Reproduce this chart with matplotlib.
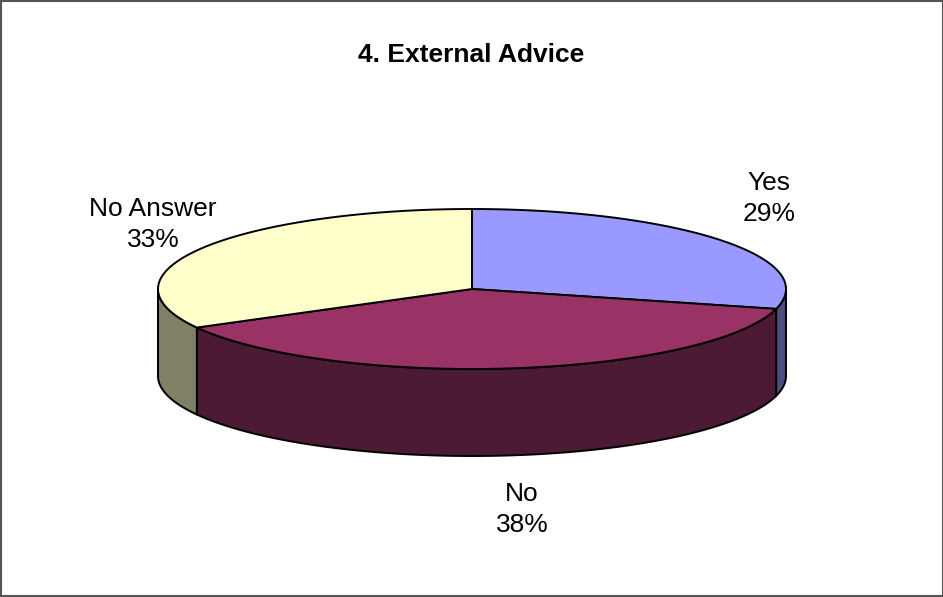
import numpy as np
import matplotlib.pyplot as plt
from matplotlib.patches import Polygon, Rectangle

plt.rcParams['font.family'] = ['Liberation Sans', 'DejaVu Sans']

# datos del gráfico
categorias = ['Yes', 'No', 'No Answer']
porcentajes = [29, 38, 33]
color_tapa = ['#9999FF', '#993366', '#FFFFCC']
color_lado = ['#4D4D80', '#4D1A33', '#808066']

# posiciones de las etiquetas (centro x, línea base de la última línea)
pos_etiquetas = [(769, 221), (522, 532), (153, 247)]

# geometría del pastel en píxeles
cx, cy = 472, 289
rx, ry = 314, 80
prof = 87

fig = plt.figure(figsize=(9.43, 5.97), dpi=100)
ax = fig.add_axes([0, 0, 1, 1])
ax.set_xlim(0, 943)
ax.set_ylim(597, 0)
ax.axis('off')


def arco(a1, a2, dy=0, n=200):
    t = np.radians(np.linspace(a1, a2, n))
    return np.column_stack([cx + rx * np.cos(t), cy - ry * np.sin(t) + dy])


# ángulos de cada porción, empezando arriba y en sentido horario
angulos = []
inicio = 90.0
for p in porcentajes:
    fin = inicio - p / 100 * 360
    angulos.append((inicio, fin))
    inicio = fin

# primero los lados visibles (mitad frontal)
for (a1, a2), c in zip(angulos, color_lado):
    for lo_f, hi_f in [(-180, 0), (-540, -360)]:
        lo, hi = max(a2, lo_f), min(a1, hi_f)
        if lo < hi:
            arriba = arco(lo, hi)
            abajo = arco(hi, lo, prof)
            ax.add_patch(Polygon(np.vstack([arriba, abajo]), closed=True,
                                 facecolor=c, edgecolor='black', lw=1.4,
                                 joinstyle='round'))

# luego las tapas
for (a1, a2), c in zip(angulos, color_tapa):
    pts = np.vstack([[cx, cy], arco(a1, a2)])
    ax.add_patch(Polygon(pts, closed=True, facecolor=c, edgecolor='black',
                         lw=1.4, joinstyle='round'))

# etiquetas con nombre y porcentaje
for cat, p, (x, y) in zip(categorias, porcentajes, pos_etiquetas):
    ax.text(x, y, f'{cat}\n{p}%', ha='center', va='baseline', fontsize=19,
            linespacing=1.38, multialignment='center')

ax.text(471, 62, '4. External Advice', ha='center', va='baseline',
        fontsize=19, fontweight='bold')

# marco del gráfico
ax.add_patch(Rectangle((0.5, 0.5), 942, 595, fill=False,
                       edgecolor='#555555', lw=1.5))

fig.savefig('out.png', dpi=100)
